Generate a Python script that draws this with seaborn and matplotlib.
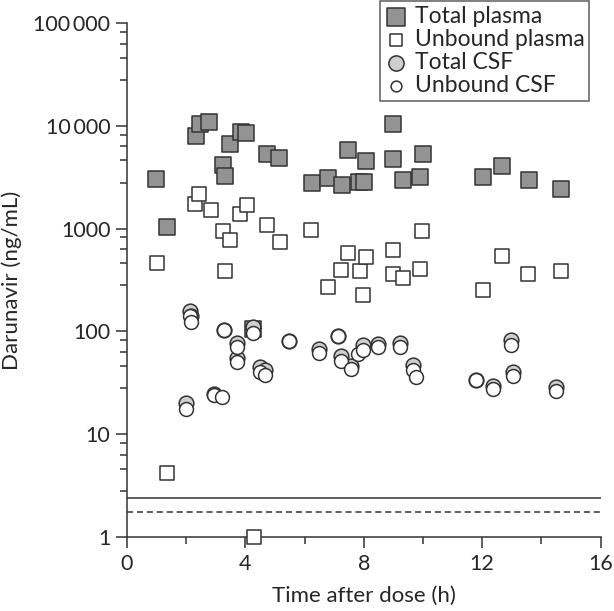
import numpy as np
import pandas as pd
import matplotlib
matplotlib.use('Agg')
import matplotlib.pyplot as plt
import seaborn as sns
from matplotlib.ticker import FixedLocator, NullFormatter

# values (time in h, darunavir in ng/mL)
tp_time = [0.99, 1.34, 2.33, 2.47, 2.78, 3.24, 3.30, 3.48, 3.84, 4.02, 4.27, 4.74, 5.15, 6.25, 6.80,
           7.25, 7.48, 7.85, 8.00, 8.07, 8.98, 8.99, 9.31, 9.90, 9.99, 12.02, 12.68, 13.58, 14.65]
tp_conc = [3060, 1043, 7970, 10350, 10900, 4120, 3220, 6660, 8720, 8450, 105, 5320, 4870, 2780, 3110,
           2675, 5770, 2845, 2850, 4510, 4760, 10500, 2990, 3200, 5320, 3180, 4030, 2970, 2410]

up_time = [1.00, 1.34, 2.30, 2.44, 2.83, 3.25, 3.30, 3.49, 3.82, 4.04, 4.29, 4.74, 5.17, 6.22, 6.80,
           7.22, 7.47, 7.86, 7.99, 8.06, 8.98, 9.00, 9.31, 9.89, 9.98, 12.02, 12.68, 13.56, 14.65]
up_conc = [466, 4.2, 1740, 2150, 1530, 940, 389, 775, 1375, 1683, 1.0, 1092, 740, 960, 272,
           398, 574, 386, 224, 528, 619, 364, 333, 404, 939, 250, 536, 358, 389]

tc_time = [1.99, 2.13, 2.15, 2.95, 3.29, 3.72, 3.72, 4.25, 4.50, 4.65, 5.47, 6.49, 7.14, 7.23,
           7.57, 7.99, 8.49, 9.22, 9.65, 11.80, 12.38, 12.96, 13.05, 14.48]
tc_conc = [20, 158, 140, 24.5, 104, 77, 55, 110, 45, 42, 80, 67, 90.6, 58,
           46, 74, 75, 77, 47.6, 33.8, 29.5, 83, 40.7, 28.7]

uc_time = [1.99, 2.13, 2.15, 2.95, 3.20, 3.29, 3.72, 3.72, 4.25, 4.50, 4.65, 5.47, 6.49, 7.14,
           7.23, 7.57, 7.81, 7.99, 8.49, 9.22, 9.65, 9.75, 11.80, 12.38, 12.96, 13.05, 14.48]
uc_conc = [17.6, 142, 124, 24, 23, 104, 70, 50, 96, 40.4, 37.5, 80, 62, 90.6,
           52, 43, 60.5, 66, 70, 70, 42, 36.4, 33.8, 27.8, 74, 37, 26.6]

lloq_total = 2.4
lloq_unbound = 1.77

labels = ['Total plasma', 'Unbound plasma', 'Total CSF', 'Unbound CSF']
ytick_labels = ['1', '10', '100', '1000', '10\u2009000', '100\u2009000']

sns.set_style('ticks')
plt.rcParams['font.family'] = ['Lato', 'DejaVu Sans']
dark = '#333333'

df = pd.concat([
    pd.DataFrame({'time': tp_time, 'conc': tp_conc, 'series': labels[0]}),
    pd.DataFrame({'time': up_time, 'conc': up_conc, 'series': labels[1]}),
    pd.DataFrame({'time': tc_time, 'conc': tc_conc, 'series': labels[2]}),
    pd.DataFrame({'time': uc_time, 'conc': uc_conc, 'series': labels[3]}),
])

fig = plt.figure(figsize=(6.14, 6.11), dpi=100)
ax = fig.add_axes([127 / 614, 74 / 611, 473.5 / 614, 514 / 611])

styles = {
    labels[0]: dict(marker='s', s=145, color='#939393'),
    labels[1]: dict(marker='s', s=90, color='white'),
    labels[2]: dict(marker='o', s=112, color='#cfcfcf'),
    labels[3]: dict(marker='o', s=100, color='white'),
}
for lab in labels:
    sub = df[df.series == lab]
    st = styles[lab]
    sns.scatterplot(data=sub, x='time', y='conc', marker=st['marker'], s=st['s'],
                    color=st['color'], edgecolor=dark, linewidth=1.1, label=lab, ax=ax,
                    zorder=3, clip_on=False)

ax.axhline(lloq_total, color=dark, lw=1.1, zorder=2)
ax.axhline(lloq_unbound, color=dark, lw=1.1, ls=(0, (4, 2.5)), zorder=2)

ax.set_yscale('log')
ax.set_xlim(0, 16)
ax.set_ylim(1, 100000)
ax.set_xticks([0, 4, 8, 12, 16])
ax.xaxis.set_minor_locator(FixedLocator([2, 6, 10, 14]))
ax.set_yticks([1, 10, 100, 1000, 10000, 100000])
ax.set_yticklabels(ytick_labels)
minor = [m * 10 ** k for k in range(5) for m in (2.8, 4.6, 6.3, 8.2)]
ax.yaxis.set_minor_locator(FixedLocator(minor))
ax.yaxis.set_minor_formatter(NullFormatter())
ax.tick_params(which='major', direction='out', length=8, width=1.1, color=dark, labelsize=15.5, pad=4)
ax.tick_params(which='minor', direction='out', length=5, width=1.1, color=dark)
ax.set_xlabel('Time after dose (h)', fontsize=16, labelpad=9)
ax.set_ylabel('Darunavir (ng/mL)', fontsize=16, labelpad=8)
sns.despine(ax=ax)
for sp in ('left', 'bottom'):
    ax.spines[sp].set_color(dark)
    ax.spines[sp].set_linewidth(1.1)

leg = ax.legend(loc='upper right', bbox_to_anchor=(589 / 614, 1 - 1 / 611), bbox_transform=fig.transFigure,
                frameon=True, fancybox=False, edgecolor=dark, fontsize=16.5, borderpad=0.2,
                labelspacing=0.1, handletextpad=0.3, handlelength=1.0, borderaxespad=0)
leg.get_frame().set_linewidth(1.1)
for h, sz in zip(leg.legend_handles, [160, 85, 120, 60]):
    h.set_sizes([sz])

fig.savefig('out.png', dpi=100)
